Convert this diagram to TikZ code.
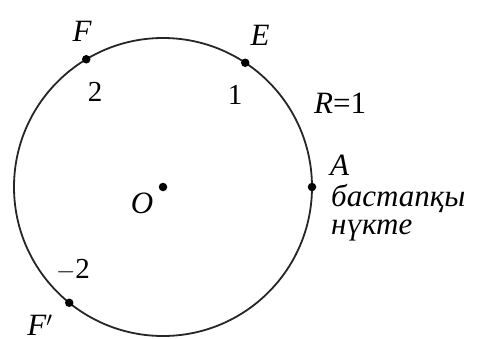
\documentclass[tikz,border=0pt]{standalone}
\usepackage{fontspec}
\setmainfont{Liberation Serif}
\usetikzlibrary{positioning, calc}
\tikzset{
  circ/.style={draw=black!85, line width=1.8pt},
  pt/.style={circle, fill=black, inner sep=0pt, minimum size=8.5pt},
  lbl/.style={font=\fontsize{31}{33}\selectfont\itshape, inner sep=0pt},
  num/.style={font=\fontsize{29}{31}\selectfont, inner sep=0pt},
}
\begin{document}
\begin{tikzpicture}[x=1pt, y=1pt]
\useasboundingbox (0,0) rectangle (481,338);

\coordinate (O) at (163,151);
\draw[circ] (O) circle (149);

% points on the circle
\node[pt] (ptA) at ($(O)+(0:149)$) {};
\node[pt] (ptE) at ($(O)+(56.5:149)$) {};
\node[pt] (ptF) at ($(O)+(121:149)$) {};
\node[pt] (ptFp) at ($(O)+(231:149)$) {};
\node[pt] (ptO) at (O) {};

% labels
\node[lbl] (lO) at (142,135) {O};
\node[lbl] (lE) at (260,303) {E};
\node[lbl] (lF) at (82,307) {F};
\node[lbl, anchor=south] (lFp) at (40,2) {F$'$};
\node[lbl, anchor=west] (lA) at (330,173) {A};
\node[lbl, anchor=west, align=left] (start) at (331,125)
  {бастапқы\\[-5pt]нүкте};
\node[num] (n1) at (235,243) {1};
\node[num] (n2) at (95,246) {2};
\node[num] (nm2) at (73,68) {$-$2};
\node[lbl, anchor=west] (rad) at (314,235) {R\upshape=1};

\end{tikzpicture}
\end{document}
